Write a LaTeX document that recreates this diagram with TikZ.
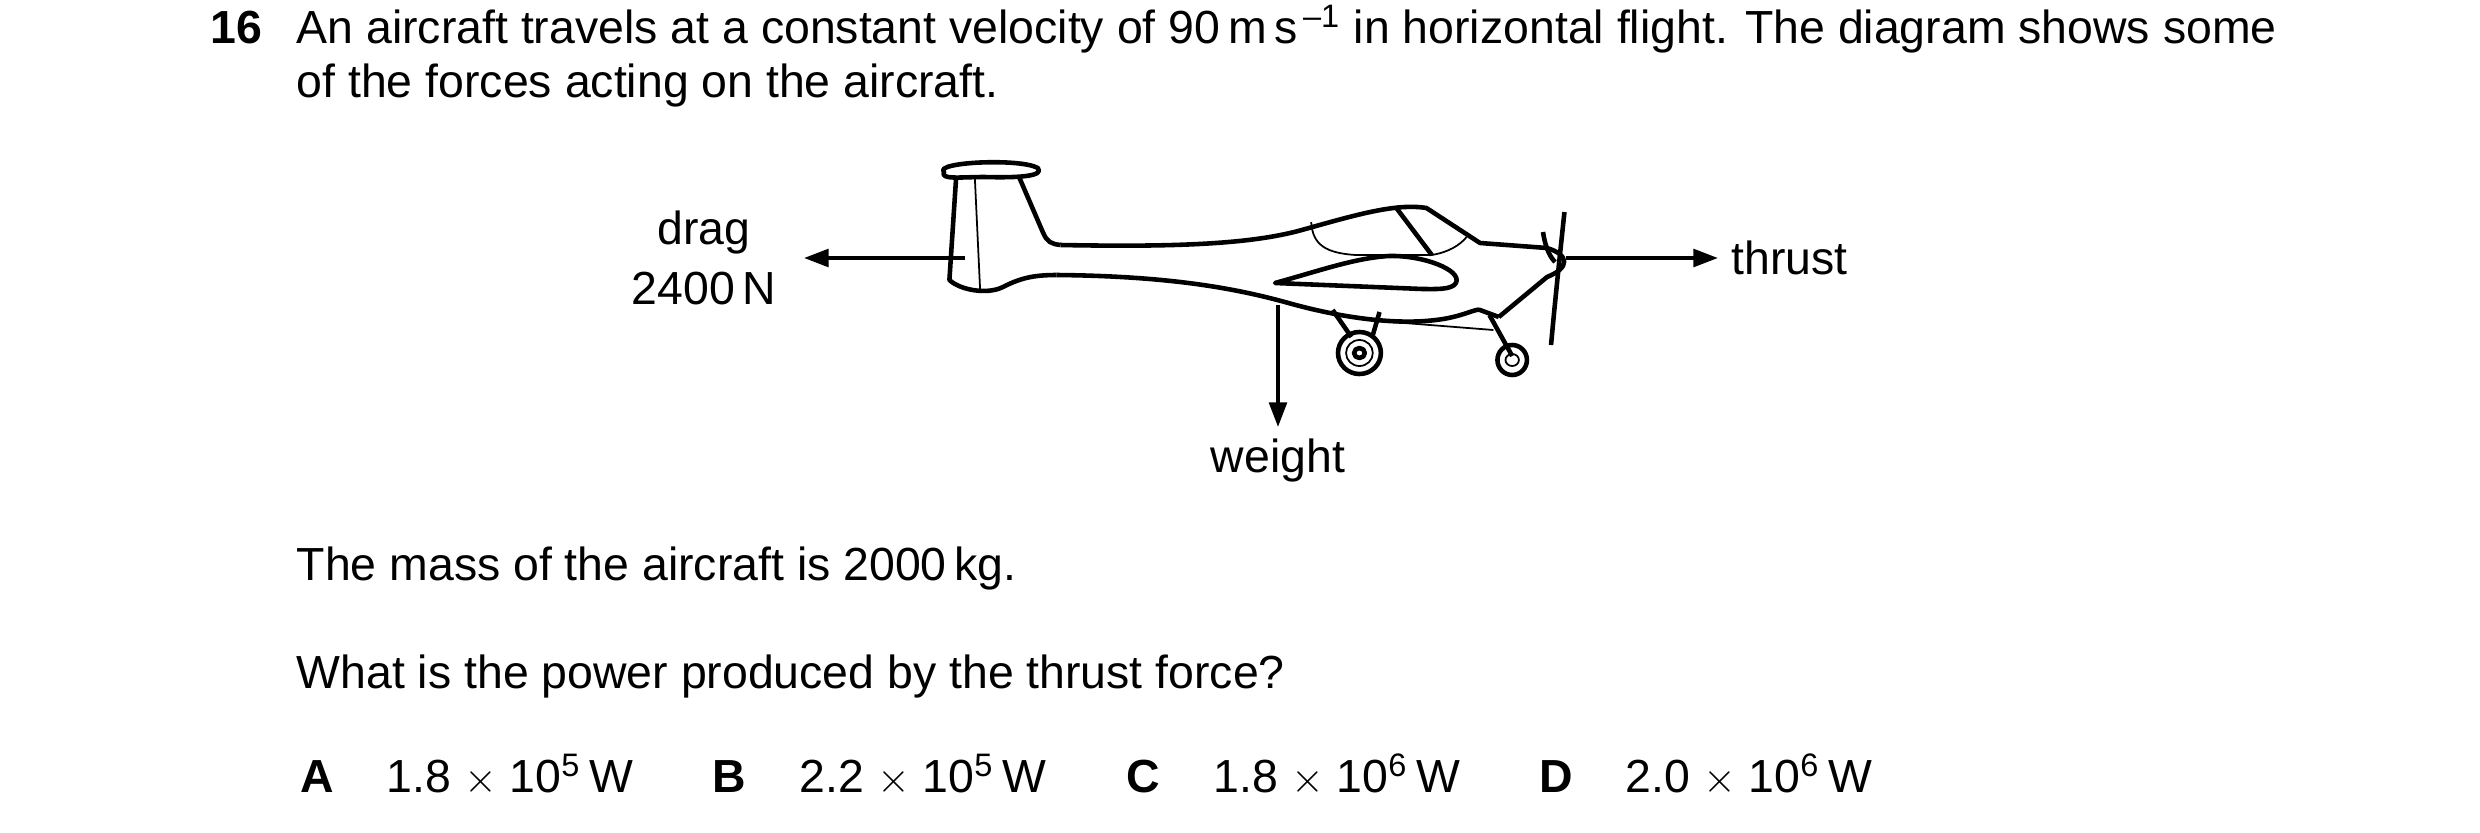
\documentclass[tikz,border=0pt]{standalone}
\usepackage{fontspec}
\setmainfont{Liberation Sans}
\usetikzlibrary{arrows.meta}
\tikzset{
  body/.style={line width=1.3pt, line join=round},
  thin part/.style={line width=0.5pt},
  force/.style={line width=1.1pt, -{Triangle[length=7pt,width=5pt]}},
  txt/.style={anchor=base west, inner sep=0pt}
}
\begin{document}
\fontsize{13.2}{16}\selectfont
\begin{tikzpicture}[x=0.01cm, y=-0.01cm]
                    \useasboundingbox (0,0) rectangle (2480,833);
                    % Question text
                    \node[txt, font=\bfseries] (num) at (210,43) {16};
                    \node[txt] (line1) at (296,43) {An aircraft travels at a constant velocity of 90\,m\,s\textsuperscript{\,–1} in horizontal flight. The diagram shows some};
                    \node[txt] (line2) at (296,97) {of the forces acting on the aircraft.};

                    \begin{scope}[xshift=-3.06cm, xscale=1.34]
                    % Tail fin
                    \draw[body] (933,172) .. controls (925,162) and (990,158) .. (1003,168) .. controls (1008,176) and (990,178) .. (963,177) .. controls (945,177) and (930,180) .. (933,172) -- cycle;
                    \draw[body] (942,178) -- (937,280) .. controls (945,290) and (965,295) .. (977,287) .. controls (990,278) and (1000,275) .. (1017,275);
                    \draw[thin part] (956,178) -- (960,292);
                    \draw[body] (989,177) -- (1007,233) .. controls (1010,242) and (1013,244) .. (1020,245);
                    % Upper fuselage and nose
                    \draw[body] (1020,245) .. controls (1100,247) and (1160,245) .. (1200,230) .. controls (1240,215) and (1270,203) .. (1293,208) -- (1333,243) -- (1383,248) .. controls (1400,255) and (1400,268) .. (1383,277) -- (1347,317);
                    % Lower fuselage
                    \draw[body] (1017,275) .. controls (1100,276) and (1150,288) .. (1190,303) .. controls (1230,318) and (1270,325) .. (1300,320) .. controls (1320,317) and (1330,308) .. (1333,310) -- (1347,317);
                    % Propeller
                    \draw[body] (1396,212) .. controls (1393,250) and (1389,300) .. (1386,345);
                    \draw[body] (1380,232) .. controls (1382,250) and (1386,258) .. (1389,262);
                    % Wing
                    \draw[body] (1180,283) .. controls (1215,270) and (1240,258) .. (1265,256) .. controls (1290,255) and (1320,270) .. (1315,283) .. controls (1312,290) and (1300,289) .. (1290,289) -- cycle;
                    % Canopy
                    \draw[thin part] (1207,222) .. controls (1208,245) and (1218,253) .. (1240,255) -- (1297,255) .. controls (1310,252) and (1318,245) .. (1323,237);
                    \draw[body] (1270,207) -- (1297,255);
                    % Landing gear
                    \draw[body] (1223,310) -- (1237,337);
                    \draw[body] (1258,312) -- (1253,335);
                    \draw[thin part] (1267,322) -- (1343,330);
                    \draw[body] (1340,315) -- (1357,356);
                    \draw[body] (1243,353) ellipse (16 and 21);
                    \draw[thin part] (1243,353) ellipse (10 and 13);
                    \draw[body] (1243,353) ellipse (4 and 5);
                    \draw[body] (1357,360) ellipse (11 and 15);
                    \draw[thin part] (1357,360) ellipse (5 and 6);
                    \end{scope}

                    % Forces
                    \coordinate (dragS) at (965,258);
                    \coordinate (dragE) at (804,258);
                    \coordinate (thrustS) at (1566,258);
                    \coordinate (thrustE) at (1718,258);
                    \coordinate (weightS) at (1278,305);
                    \coordinate (weightE) at (1278,427);
                    \draw[force] (dragS) -- (dragE);
                    \draw[force] (thrustS) -- (thrustE);
                    \draw[force] (weightS) -- (weightE);
                    \node[align=center] (drag) at (704,258) {drag\\[1pt]2400\,N};
                    \node[anchor=west, inner sep=0pt] (thrust) at (1731,258) {thrust};
                    \node[anchor=base, inner sep=0pt] (weight) at (1278,472) {weight};

                    % Data and options
                    \node[txt] (mass) at (296,580) {The mass of the aircraft is 2000\,kg.};
                    \node[txt] (ask) at (296,688) {What is the power produced by the thrust force?};
                    \node[txt, font=\bfseries] (optA) at (300,792) {A};
                    \node[txt] (valA) at (386,792) {1.8 $\times$ 10\textsuperscript{5}\,W};
                    \node[txt, font=\bfseries] (optB) at (712,792) {B};
                    \node[txt] (valB) at (799,792) {2.2 $\times$ 10\textsuperscript{5}\,W};
                    \node[txt, font=\bfseries] (optC) at (1126,792) {C};
                    \node[txt] (valC) at (1213,792) {1.8 $\times$ 10\textsuperscript{6}\,W};
                    \node[txt, font=\bfseries] (optD) at (1539,792) {D};
                    \node[txt] (valD) at (1625,792) {2.0 $\times$ 10\textsuperscript{6}\,W};
                \end{tikzpicture}
\end{document}
